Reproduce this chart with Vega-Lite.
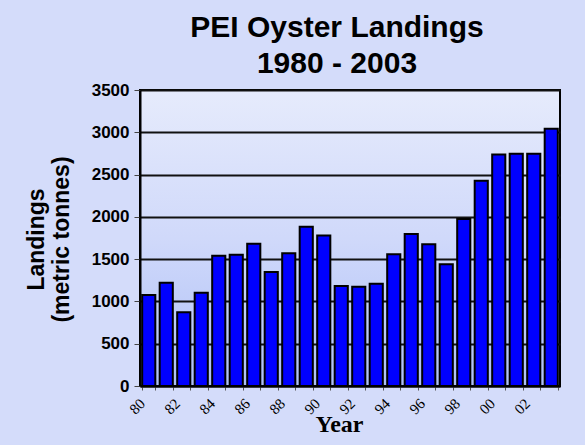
{
  "$schema": "https://vega.github.io/schema/vega-lite/v6.json",
  "width": 420,
  "height": 296,
  "autosize": {"type": "none"},
  "padding": {"left": 140, "top": 90, "right": 25, "bottom": 59},
  "background": "#d4dcfa",
  "title": {
    "text": ["PEI Oyster Landings", "1980 - 2003"],
    "font": "Liberation Sans",
    "fontSize": 30,
    "fontWeight": "bold",
    "lineHeight": 36,
    "color": "#000000",
    "anchor": "middle",
    "dx": -13,
    "offset": 2
  },
  "data": {
    "values": [
      {"year": 1980, "landings": 1075},
      {"year": 1981, "landings": 1222},
      {"year": 1982, "landings": 872},
      {"year": 1983, "landings": 1104},
      {"year": 1984, "landings": 1541},
      {"year": 1985, "landings": 1553},
      {"year": 1986, "landings": 1683},
      {"year": 1987, "landings": 1348},
      {"year": 1988, "landings": 1569},
      {"year": 1989, "landings": 1884},
      {"year": 1990, "landings": 1781},
      {"year": 1991, "landings": 1183},
      {"year": 1992, "landings": 1175},
      {"year": 1993, "landings": 1210},
      {"year": 1994, "landings": 1557},
      {"year": 1995, "landings": 1797},
      {"year": 1996, "landings": 1675},
      {"year": 1997, "landings": 1439},
      {"year": 1998, "landings": 1974},
      {"year": 1999, "landings": 2427},
      {"year": 2000, "landings": 2738},
      {"year": 2001, "landings": 2746},
      {"year": 2002, "landings": 2746},
      {"year": 2003, "landings": 3041}
    ]
  },
  "mark": {"type": "bar", "fill": "#0000ff", "stroke": "#000000", "strokeWidth": 2},
  "encoding": {
    "x": {
      "field": "year",
      "type": "ordinal",
      "scale": {"paddingInner": 0.25, "paddingOuter": 0.125},
      "axis": {
        "title": "Year",
        "titleFont": "Liberation Serif",
        "titleFontSize": 24,
        "titleFontWeight": "bold",
        "titleColor": "#000000",
        "titleX": 199,
        "titleY": 45,
        "titleAlign": "center",
        "titleBaseline": "alphabetic",
        "labelExpr": "datum.value % 2 == 0 ? substring(toString(datum.value), 2) : ''",
        "labelAngle": -45,
        "labelAlign": "center",
        "labelBaseline": "middle",
        "labelOffset": -12,
        "labelPadding": 16,
        "labelFont": "Liberation Serif",
        "labelFontSize": 15,
        "labelColor": "#000000",
        "labelOverlap": false,
        "tickBand": "extent",
        "tickSize": 4,
        "tickColor": "#555555",
        "tickWidth": 1,
        "domainColor": "#000000",
        "domainWidth": 2
      }
    },
    "y": {
      "field": "landings",
      "type": "quantitative",
      "scale": {"domain": [0, 3500]},
      "axis": {
        "values": [0, 500, 1000, 1500, 2000, 2500, 3000, 3500],
        "format": "d",
        "title": ["Landings", "(metric tonnes)"],
        "titleFont": "Liberation Sans",
        "titleFontSize": 23,
        "titleFontWeight": "bold",
        "titleColor": "#000000",
        "titleLineHeight": 25,
        "titleX": -97,
        "titleY": 149,
        "titleAngle": -90,
        "titleAlign": "center",
        "titleBaseline": "alphabetic",
        "labelFont": "Liberation Sans",
        "labelFontSize": 17,
        "labelFontWeight": "bold",
        "labelColor": "#000000",
        "labelPadding": 5,
        "tickSize": 6,
        "tickColor": "#444444",
        "tickWidth": 1,
        "grid": true,
        "gridColor": "#111111",
        "gridWidth": 2,
        "gridOpacity": 1,
        "domainColor": "#000000",
        "domainWidth": 2
      }
    }
  },
  "config": {
    "view": {"stroke": "#000000", "strokeWidth": 2, "fill": {"gradient": "linear", "x1": 0, "y1": 0, "x2": 0, "y2": 1, "stops": [{"offset": 0, "color": "#e6ebfc"}, {"offset": 0.5, "color": "#d0d9fa"}, {"offset": 1, "color": "#aec0f7"}]}}
  }
}
